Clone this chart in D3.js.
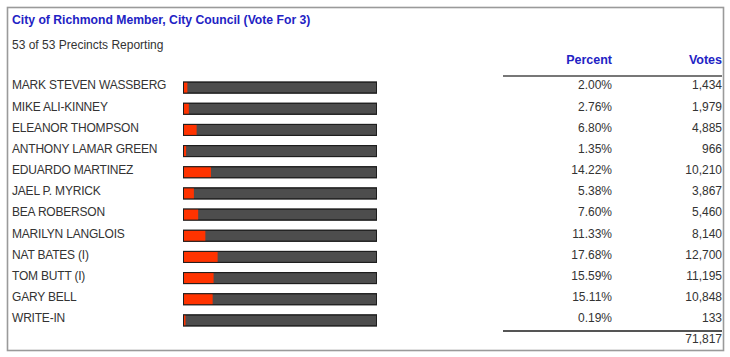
<!DOCTYPE html>
<html><head><meta charset="utf-8">
<script src="https://cdn.jsdelivr.net/npm/d3@7"></script>
<style>
html,body{margin:0;padding:0;background:#fff;}
svg text{font-family:"Liberation Sans",Arial,Helvetica,sans-serif;}
</style></head>
<body>
<svg id="chart" width="730" height="357"></svg>
<script>
const title = "City of Richmond Member, City Council (Vote For 3)";
const subtitle = "53 of 53 Precincts Reporting";
const candidates = ["MARK STEVEN WASSBERG","MIKE ALI-KINNEY","ELEANOR THOMPSON","ANTHONY LAMAR GREEN","EDUARDO MARTINEZ","JAEL P. MYRICK","BEA ROBERSON","MARILYN LANGLOIS","NAT BATES (I)","TOM BUTT (I)","GARY BELL","WRITE-IN"];
const percents = [2.00,2.76,6.80,1.35,14.22,5.38,7.60,11.33,17.68,15.59,15.11,0.19];
const votes = [1434,1979,4885,966,10210,3867,5460,8140,12700,11195,10848,133];
const totalVotes = 71817;
const columnHeaders = ["Percent","Votes"];

const svg = d3.select("#chart");
const blue = "#2222c4", txt = "#333";

// outer box
svg.append("rect").attr("x",7.5).attr("y",7.5).attr("width",716).attr("height",343)
  .attr("fill","none").attr("stroke","#9a9a9a").attr("stroke-width",1.6);

svg.append("text").attr("x",12).attr("y",24).attr("fill",blue)
  .attr("font-size",12.2).attr("font-weight","bold").text(title);
svg.append("text").attr("x",12).attr("y",49).attr("fill",txt)
  .attr("font-size",12).text(subtitle);

const y = d3.scaleBand().domain(candidates).range([76.5, 330.5]).paddingInner(0).paddingOuter(0);
const x = d3.scaleLinear().domain([0,100]).range([183.5, 376.5]);
const bh = 11;

const rows = svg.append("g").selectAll("g").data(candidates).join("g")
  .attr("transform", d => `translate(0,${y(d)})`);
const rc = y.bandwidth();
const barTop = (rc - bh)/2 + 0.5;
const baseY = barTop + 7.3;

rows.append("text").attr("x",12).attr("y",baseY).attr("fill",txt).attr("font-size",12)
  .attr("letter-spacing",-0.2).text(d=>d);

rows.append("rect").attr("x",x(0)).attr("y",barTop).attr("width",x(100)-x(0)).attr("height",bh)
  .attr("fill","#4d4d4d").attr("stroke","#1e1e1e").attr("stroke-width",1);
rows.append("rect").attr("x",x(0)).attr("y",barTop).attr("width",(d,i)=>Math.max(2, x(percents[i])-x(0))).attr("height",bh)
  .attr("fill","#ff3300").attr("stroke","none");
rows.append("rect").attr("x",x(0)).attr("y",barTop).attr("width",x(100)-x(0)).attr("height",bh)
  .attr("fill","none").attr("stroke","#1e1e1e").attr("stroke-width",1);

const fmtPct = d => d.toFixed(2)+"%";
const fmtV = d3.format(",");
rows.append("text").attr("x",612).attr("y",baseY).attr("text-anchor","end").attr("fill",txt)
  .attr("font-size",12).text((d,i)=>fmtPct(percents[i]));
rows.append("text").attr("x",722).attr("y",baseY).attr("text-anchor","end").attr("fill",txt)
  .attr("font-size",12).text((d,i)=>fmtV(votes[i]));

// headers
svg.append("text").attr("x",612).attr("y",64).attr("text-anchor","end").attr("fill",blue)
  .attr("font-size",12.5).attr("font-weight","bold").text(columnHeaders[0]);
svg.append("text").attr("x",722).attr("y",64).attr("text-anchor","end").attr("fill",blue)
  .attr("font-size",12.5).attr("font-weight","bold").text(columnHeaders[1]);
svg.append("line").attr("x1",503).attr("x2",722).attr("y1",76).attr("y2",76)
  .attr("stroke","#777").attr("stroke-width",2);

// total
svg.append("line").attr("x1",503).attr("x2",722).attr("y1",331).attr("y2",331)
  .attr("stroke","#555").attr("stroke-width",2.2);
svg.append("text").attr("x",722).attr("y",343).attr("text-anchor","end").attr("fill",txt)
  .attr("font-size",12).text(fmtV(totalVotes));
</script>
</body></html>
